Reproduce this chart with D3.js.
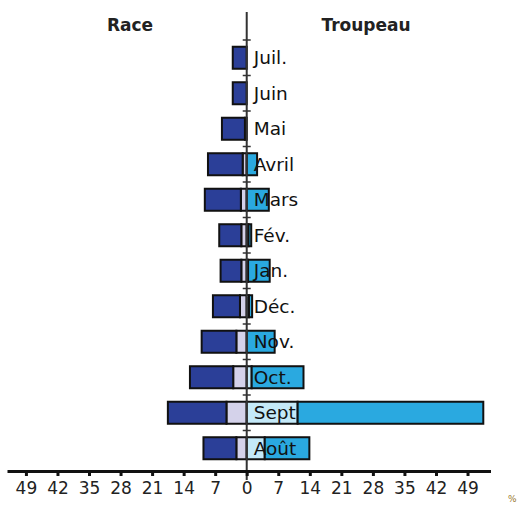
<!DOCTYPE html>
<html>
  <head>
    <meta charset="utf-8">
    <script src="https://d3js.org/d3.v7.min.js"></script>
    <style>
      body { margin: 0; background: #fff; }
      text { font-family: "DejaVu Sans", sans-serif; }
    </style>
  </head>
<body>
  <script type="text/javascript">
    /*
      Data (percent)
    */
    var months = ["Juil.", "Juin", "Mai", "Avril", "Mars", "Fév.", "Jan.",
                  "Déc.", "Nov.", "Oct.", "Sept", "Août"];
    // Race: inner (lavender) and outer (dark blue) parts
    var raceInner = [0, 0, 0.4, 0.9, 1.3, 1.2, 1.2, 1.5, 2.3, 3.0, 4.5, 2.3];
    var raceOuter = [3.1, 3.1, 5.1, 7.7, 8.0, 4.9, 4.6, 6.0, 7.7, 9.6, 13.0, 7.3];
    // Troupeau: inner (light) and outer (cyan) parts
    var troupInner = [0, 0, 0, 0, 0, 0.4, 0.3, 0.5, 0, 1.1, 11.3, 4.0];
    var troupOuter = [0, 0, 0, 2.3, 4.9, 0.6, 4.8, 0.7, 6.2, 11.5, 41.2, 9.9];
    var tickValues = [-49, -42, -35, -28, -21, -14, -7, 0, 7, 14, 21, 28, 35, 42, 49];

    var width = 517,
        height = 506;

    var svg = d3.select("body")
      .append("svg")
        .attr("width", width)
        .attr("height", height);

    var x = d3.scaleLinear()
      .domain([-53.2, 54.1])
      .range([7, 490.5]);

    var y = d3.scaleBand()
      .domain(months)
      .range([40, 466])
      .paddingInner(0.38)
      .paddingOuter(0.19);

    /*
      Build segments: [start, end, colour] per month
    */
    var segs = [];
    months.forEach(function(m, i) {
      segs.push({m: m, a: -raceInner[i], b: 0, c: "#d4d2ea"});
      segs.push({m: m, a: -(raceInner[i] + raceOuter[i]), b: -raceInner[i], c: "#2b3f98"});
      segs.push({m: m, a: 0, b: troupInner[i], c: "#c4e9f8"});
      segs.push({m: m, a: troupInner[i], b: troupInner[i] + troupOuter[i], c: "#2aa9e0"});
    });

    svg.append("g")
      .selectAll("rect")
      .data(segs.filter(function(d) { return d.b - d.a > 0; }))
      .enter()
      .append("rect")
        .attr("x", function(d) { return x(d.a); })
        .attr("y", function(d) { return y(d.m); })
        .attr("width", function(d) { return x(d.b) - x(d.a); })
        .attr("height", y.bandwidth())
        .attr("fill", function(d) { return d.c; })
        .attr("stroke", "#111")
        .attr("stroke-width", 2);

    /*
      Centre line with category ticks
    */
    svg.append("line")
      .attr("x1", x(0)).attr("x2", x(0))
      .attr("y1", 12).attr("y2", 480)
      .attr("stroke", "#333")
      .attr("stroke-width", 2);

    svg.append("g")
      .selectAll("line")
      .data(months)
      .enter()
      .append("line")
        .attr("x1", x(0) - 4).attr("x2", x(0) + 4)
        .attr("y1", function(d) { return y(d) - y.step() * 0.19; })
        .attr("y2", function(d) { return y(d) - y.step() * 0.19; })
        .attr("stroke", "#333")
        .attr("stroke-width", 1.5);

    /*
      Month labels
    */
    svg.append("g")
      .selectAll("text")
      .data(months)
      .enter()
      .append("text")
        .attr("x", x(0) + 7)
        .attr("y", function(d) { return y(d) + y.bandwidth() / 2 + 6.5; })
        .attr("font-size", 18.5)
        .attr("fill", "#111")
        .text(function(d) { return d; });

    /*
      Bottom axis
    */
    var axis = svg.append("g")
      .attr("transform", "translate(0,471)")
      .call(d3.axisBottom(x)
        .tickValues(tickValues)
        .tickFormat(function(d) { return Math.abs(d); })
        .tickSize(5)
        .tickSizeOuter(0)
        .tickPadding(6));
    axis.select(".domain").attr("stroke", "#111").attr("stroke-width", 3);
    axis.selectAll(".tick line").attr("stroke", "#111").attr("stroke-width", 3);
    axis.selectAll(".tick text")
      .attr("font-size", 17)
      .attr("font-family", "DejaVu Sans, sans-serif")
      .attr("fill", "#222");

    /*
      Titles
    */
    svg.append("text")
      .attr("x", 130).attr("y", 31)
      .attr("text-anchor", "middle")
      .attr("font-size", 17)
      .attr("font-weight", "bold")
      .attr("fill", "#222")
      .text("Race");

    svg.append("text")
      .attr("x", 366).attr("y", 31)
      .attr("text-anchor", "middle")
      .attr("font-size", 17)
      .attr("font-weight", "bold")
      .attr("fill", "#222")
      .text("Troupeau");

    svg.append("text")
      .attr("x", 508).attr("y", 502)
      .attr("font-size", 9)
      .attr("fill", "#9a7a30")
      .text("%");
  </script>
</body>
</html>
